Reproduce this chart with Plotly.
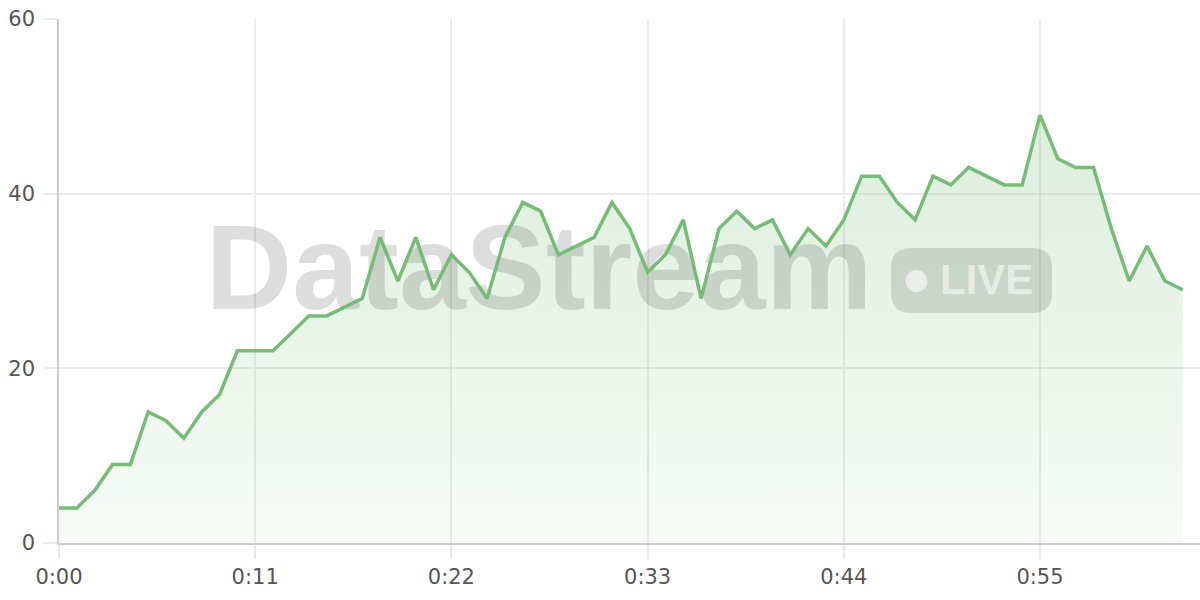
import plotly.graph_objects as go

seconds = list(range(64))
values = [4, 4, 6, 9, 9, 15, 14, 12, 15, 17,
          22, 22, 22, 24, 26, 26, 27, 28, 35, 30,
          35, 29, 33, 31, 28, 35, 39, 38, 33, 34,
          35, 39, 36, 31, 33, 37, 28, 36, 38, 36,
          37, 33, 36, 34, 37, 42, 42, 39, 37, 42,
          41, 43, 42, 41, 41, 49, 44, 43, 43, 36,
          30, 34, 30, 29]
tick_vals = [0, 11, 22, 33, 44, 55]
tick_text = ["0:00", "0:11", "0:22", "0:33", "0:44", "0:55"]
y_ticks = [0, 20, 40, 60]

X_RANGE = [0, 63.97]
Y_RANGE = [0, 60]
LINE = "rgb(118,188,118)"
FONT = "Liberation Sans, Arial, sans-serif"
TICK_FONT = "DejaVu Sans, sans-serif"

def px(fx):
    return X_RANGE[0] + fx * (X_RANGE[1] - X_RANGE[0])

def py(fy):
    return Y_RANGE[0] + fy * (Y_RANGE[1] - Y_RANGE[0])

fig = go.Figure()

# area fill
fig.add_trace(go.Scatter(
    x=seconds, y=values, mode="lines", line=dict(width=0, color=LINE),
    fill="tozeroy",
    fillgradient=dict(type="vertical", start=0, stop=50,
                      colorscale=[[0, "rgba(118,188,118,0.06)"],
                                  [1, "rgba(118,188,118,0.26)"]]),
    hoverinfo="skip", showlegend=False))

# watermark text (between fill and line)
fig.add_trace(go.Scatter(
    x=[px(0.4207)], y=[py(0.503)], mode="text", text=["<b>DataStream</b>"],
    textposition="middle center",
    textfont=dict(family=FONT, size=120, color="rgba(0,0,0,0.135)"),
    hoverinfo="skip", showlegend=False))

# line
fig.add_trace(go.Scatter(
    x=seconds, y=values, mode="lines",
    line=dict(color=LINE, width=3.5),
    hoverinfo="skip", showlegend=False))

# LIVE badge
bx0, bx1, by0, by1 = 0.7292, 0.8703, 0.4389, 0.563
rx, ry = 0.0175, 0.0382
path = (f"M {bx0+rx},{by0} L {bx1-rx},{by0} Q {bx1},{by0} {bx1},{by0+ry} "
        f"L {bx1},{by1-ry} Q {bx1},{by1} {bx1-rx},{by1} "
        f"L {bx0+rx},{by1} Q {bx0},{by1} {bx0},{by1-ry} "
        f"L {bx0},{by0+ry} Q {bx0},{by0} {bx0+rx},{by0} Z")
fig.add_shape(type="path", path=path, xref="paper", yref="paper",
              fillcolor="rgba(0,0,0,0.12)", line=dict(width=0), layer="above")
fig.add_shape(type="circle", xref="paper", yref="paper",
              x0=0.7419, x1=0.7611, y0=0.479, y1=0.521,
              fillcolor="rgba(255,255,255,0.6)", line=dict(width=0), layer="above")
fig.add_annotation(text="<b>LIVE</b>", xref="paper", yref="paper", x=0.8129, y=0.503,
                   xanchor="center", yanchor="middle", showarrow=False,
                   font=dict(family=FONT, size=42, color="rgba(255,255,255,0.55)"))

axis_common = dict(
    showgrid=True, gridcolor="#ebebeb", gridwidth=1.5,
    zeroline=False, showline=True, linecolor="#cccccc", linewidth=1.5,
    ticks="outside", ticklen=14, tickcolor="#e8e8e8", tickwidth=1.5,
    automargin=False, tickfont=dict(family=TICK_FONT, size=21, color="#555555"))

fig.update_layout(
    width=1200, height=600,
    margin=dict(l=59, r=0, t=19, b=57, autoexpand=False),
    plot_bgcolor="white", paper_bgcolor="white",
    font=dict(family=TICK_FONT, size=21, color="#555555"),
    xaxis=dict(range=X_RANGE, tickvals=tick_vals, ticktext=tick_text, **axis_common),
    yaxis=dict(range=Y_RANGE, tickvals=y_ticks, ticklabelstandoff=4, **axis_common),
)

fig.write_html("out.html", config={"displayModeBar": False},
               post_script="document.body.style.margin='0';document.body.style.overflow='hidden';")
